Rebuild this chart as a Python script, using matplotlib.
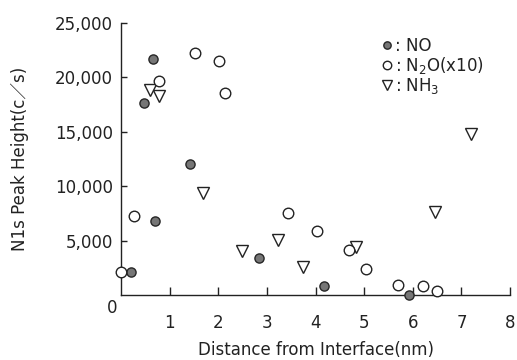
import matplotlib
matplotlib.use("Agg")
import matplotlib.pyplot as plt
from matplotlib.ticker import FuncFormatter

plt.rcParams['font.family'] = ['DejaVu Sans', 'Noto Sans CJK JP']

# N1s peak heights versus distance from the interface
no_x = [0.21, 0.48, 0.65, 0.69, 1.42, 2.84, 4.18, 5.93]
no_y = [2140, 17640, 21700, 6820, 12000, 3370, 830, 0]

n2o_x = [0.00, 0.27, 0.79, 1.52, 2.02, 2.13, 3.44, 4.03, 4.68, 5.04, 5.69, 6.22, 6.50]
n2o_y = [2080, 7250, 19660, 22230, 21500, 18600, 7550, 5900, 4130, 2360, 920, 830, 370]

nh3_x = [0.60, 0.78, 1.68, 2.48, 3.22, 3.75, 4.83, 6.45, 7.20]
nh3_y = [18840, 18280, 9390, 4040, 5050, 2600, 4430, 7640, 14770]

x_ticks = [1, 2, 3, 4, 5, 6, 7, 8]
y_ticks = [5000, 10000, 15000, 20000, 25000]

fig = plt.figure(figsize=(5.17, 3.60), dpi=100)
ax = fig.add_axes([121 / 517, 65 / 360, 389 / 517, 272 / 360])

ink = '#222222'
ax.plot(no_x, no_y, linestyle='none', marker='o', markersize=6.6,
        markerfacecolor='#767676', markeredgecolor='#262626', markeredgewidth=1.0,
        clip_on=False, label=': NO', zorder=3)
ax.plot(n2o_x, n2o_y, linestyle='none', marker='o', markersize=7.6,
        markerfacecolor='white', markeredgecolor=ink, markeredgewidth=1.0,
        clip_on=False, label=r': $\mathregular{N_2O}$(x10)', zorder=3)
ax.plot(nh3_x, nh3_y, linestyle='none', marker='v', markersize=8.2,
        markerfacecolor='white', markeredgecolor=ink, markeredgewidth=1.0,
        clip_on=False, label=r': $\mathregular{NH_3}$', zorder=2)

ax.set_xlim(0, 8)
ax.set_ylim(0, 25000)
ax.set_xticks(x_ticks)
ax.set_yticks(y_ticks)
ax.yaxis.set_major_formatter(FuncFormatter(lambda v, p: f"{int(v):,}"))

for side in ('top', 'right'):
    ax.spines[side].set_visible(False)
for side in ('left', 'bottom'):
    ax.spines[side].set_color(ink)
    ax.spines[side].set_linewidth(1.0)

ax.tick_params(axis='x', direction='in', length=6, width=1.0, color=ink,
               pad=13.5, labelsize=12, labelcolor=ink)
ax.tick_params(axis='y', direction='in', length=4, width=1.0, color=ink,
               pad=6, labelsize=12, labelcolor=ink)

ax.annotate('0', xy=(0, 0), xytext=(-9, -13), textcoords='offset pixels',
            ha='center', va='center', fontsize=12, color=ink)

ax.set_xlabel('Distance from Interface(nm)', fontsize=12, color=ink)
ax.xaxis.set_label_coords(0.5, -0.202)
ax.xaxis.label.set_va('center')
ax.set_ylabel('N1s Peak Height(c／s)', fontsize=12, color=ink)
ax.yaxis.set_label_coords(-0.26, 0.5)
ax.yaxis.label.set_va('center')

leg = ax.legend(loc='upper left', bbox_to_anchor=(381 / 517, 1 - 37 / 360),
                bbox_transform=fig.transFigure, frameon=False, fontsize=12,
                handlelength=0.7, handletextpad=0.15, labelspacing=0.0,
                borderpad=0, borderaxespad=0, markerscale=0.8)
for t in leg.get_texts():
    t.set_color(ink)

fig.savefig('out.png', dpi=100)
